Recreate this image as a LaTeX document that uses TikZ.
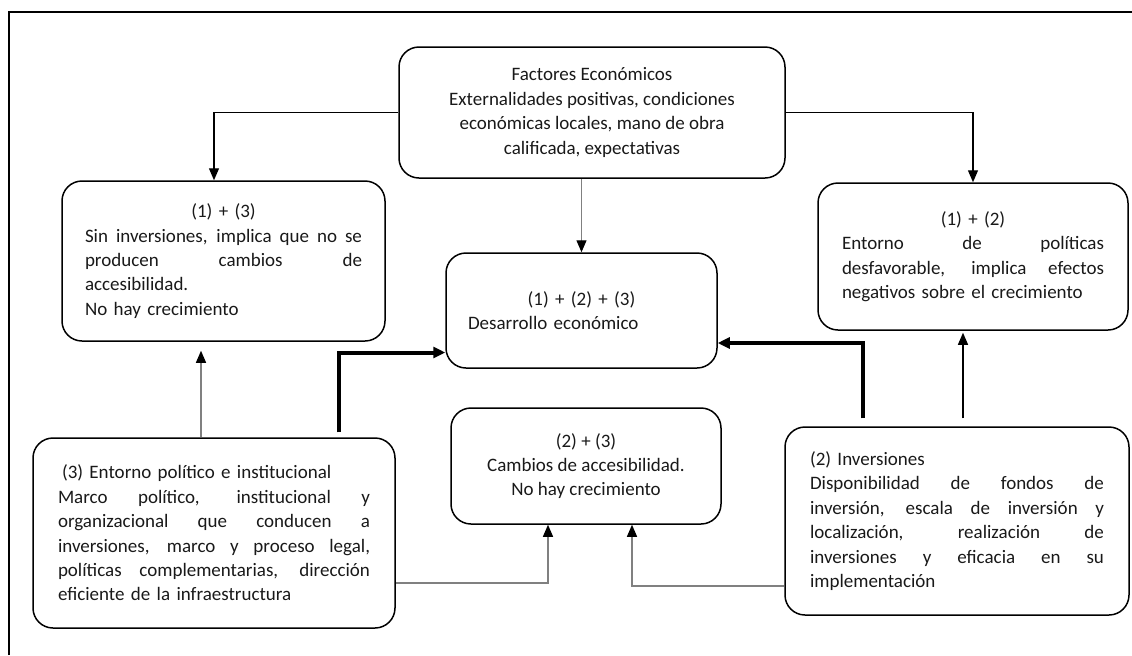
\documentclass[tikz,border=0pt]{standalone}
\usepackage{fontspec}
\setmainfont{Carlito}
\usetikzlibrary{positioning,arrows.meta}
\newcommand{\jl}[1]{\makebox[\hsize][s]{\spaceskip=0pt\xspaceskip=0pt #1}\\}
\newcommand{\cl}[1]{\makebox[\hsize]{#1}\\}
\tikzset{
  flowarrow/.style={-{Triangle[length=6pt,width=5pt,color=black]}, line width=0.6pt},
  softarrow/.style={flowarrow, draw=black!50},
  boldarrow/.style={-{Triangle[length=6pt,width=5.5pt]}, line width=2pt},
  factbox/.style={draw, rounded corners=10pt, line width=0.75pt, inner sep=0pt, text=black!90,
    font=\fontsize{9.5}{12.2}\selectfont}
}

\begin{document}
\begin{tikzpicture}[x=0.5pt, y=-0.5pt]
  \useasboundingbox (0,0) rectangle (1132,655);
  \draw[line width=0.6pt] (9,655) -- (9,12) -- (1132,12);

  % boxes
  \node[factbox, minimum width=193pt, minimum height=65.5pt, align=center] (eco) at (592,112.5)
    {Factores Económicos\\Externalidades positivas, condiciones\\económicas locales, mano de obra\\calificada, expectativas};
  \node[factbox, minimum width=161.5pt, minimum height=80pt, text width=138.5pt, align=left] (sininv) at (223.5,261)
    {\cl{(1) + (3)}\jl{Sin inversiones, implica que no se}\jl{producen cambios de}accesibilidad.\\No hay crecimiento};
  \node[factbox, minimum width=135.5pt, minimum height=57.5pt, text width=113.5pt, align=left] (desarrollo) at (581.5,310.5)
    {\cl{(1) + (2) + (3)}Desarrollo económico};
  \node[factbox, minimum width=155pt, minimum height=73.5pt, text width=131pt, align=left] (entorno) at (973,256.5)
    {\cl{(1) + (2)}\jl{Entorno de políticas}\jl{desfavorable, implica efectos}negativos sobre el crecimiento};
  \node[factbox, minimum width=181pt, minimum height=95pt, text width=156pt, align=left] (politico) at (214,533)
    {\hspace{2pt}(3) Entorno político e institucional\\\jl{Marco político, institucional y}\jl{organizacional que conducen a}\jl{inversiones, marco y proceso legal,}\jl{políticas complementarias, dirección}eficiente de la infraestructura};
  \node[factbox, minimum width=135pt, minimum height=58pt, align=center] (cambios) at (586,466)
    {(2) + (3)\\Cambios de accesibilidad.\\No hay crecimiento};
  \node[factbox, minimum width=172pt, minimum height=94pt, text width=147pt, align=left] (inversiones) at (957,521)
    {(2) Inversiones\\\jl{Disponibilidad de fondos de}\jl{inversión, escala de inversión y}\jl{localización, realización de}\jl{inversiones y eficacia en su}implementación};

  % connectors
  \draw[flowarrow] (eco.west) -| ([xshift=-4.75pt]sininv.north);
  \draw[flowarrow] (eco.east) -| (entorno.north);
  \draw[softarrow] (eco.south -| desarrollo.north) -- (desarrollo.north);

  \coordinate (p1) at ([xshift=-6.5pt]politico.north);
  \draw[softarrow, shorten >=4.5pt] (p1) -- (p1 |- sininv.south);
  \coordinate (p2) at ([xshift=62.5pt, yshift=2.5pt]politico.north);
  \draw[boldarrow] (p2) |- ([yshift=-21pt]desarrollo.west);

  \coordinate (i1) at ([xshift=-47pt, yshift=4pt]inversiones.north);
  \draw[boldarrow] (i1) |- ([yshift=-16.25pt]desarrollo.east);
  \coordinate (i2) at ([xshift=3pt, yshift=4pt]inversiones.north);
  \draw[flowarrow, shorten >=1pt] (i2) -- (i2 |- entorno.south);

  \draw[softarrow] ([yshift=-25pt]politico.east) -| ([xshift=-19pt]cambios.south);
  \draw[softarrow] ([yshift=-32.5pt]inversiones.west) -| ([xshift=23pt]cambios.south);
\end{tikzpicture}
\end{document}
